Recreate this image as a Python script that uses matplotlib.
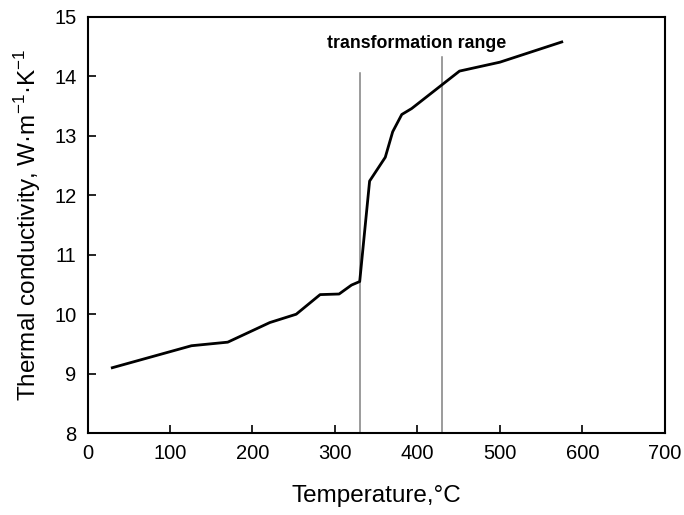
import numpy as np
import matplotlib
matplotlib.use('Agg')
import matplotlib.pyplot as plt

plt.rcParams['font.family'] = ['Liberation Sans', 'DejaVu Sans']
plt.rcParams['mathtext.fontset'] = 'custom'
plt.rcParams['mathtext.rm'] = 'Liberation Sans'

# measured curve, temperature (°C) vs thermal conductivity
temperature = [30, 126, 170, 221, 253, 282, 305, 320, 330, 342, 361, 370, 381, 393, 451, 500, 575]
conductivity = [9.10, 9.47, 9.53, 9.86, 10.00, 10.33, 10.34, 10.49, 10.55, 12.24, 12.64, 13.07, 13.36, 13.46, 14.09, 14.24, 14.58]

# transformation range limits and their line tops
range_limits = [330, 430]
range_tops = [14.05, 14.33]

fig = plt.figure(figsize=(6.84, 5.15), dpi=100)
ax = fig.add_axes([0.128, 0.159, 0.844, 0.808])

for xv, top in zip(range_limits, range_tops):
    ax.plot([xv, xv], [8, top], color='#808080', lw=1.1, zorder=1)

ax.plot(temperature, conductivity, color='black', lw=2, zorder=2)

ax.text(399, 14.56, 'transformation range', fontsize=12.8, fontweight='bold',
        ha='center', va='center')

ax.set_xlim(0, 700)
ax.set_ylim(8, 15)
ax.set_xticks(np.arange(0, 701, 100))
ax.set_yticks(np.arange(8, 16, 1))
ax.tick_params(direction='in', length=6, width=1.2, labelsize=14.5, pad=8,
               top=False, right=False)
for s in ax.spines.values():
    s.set_linewidth(1.5)

ax.set_xlabel('Temperature,°C', fontsize=17.5, labelpad=16)
ax.set_ylabel(r'Thermal conductivity, W·m$^{\mathregular{-1}}$·K$^{\mathregular{-1}}$',
              fontsize=17.5, labelpad=8)

fig.savefig('out.png', dpi=100)
